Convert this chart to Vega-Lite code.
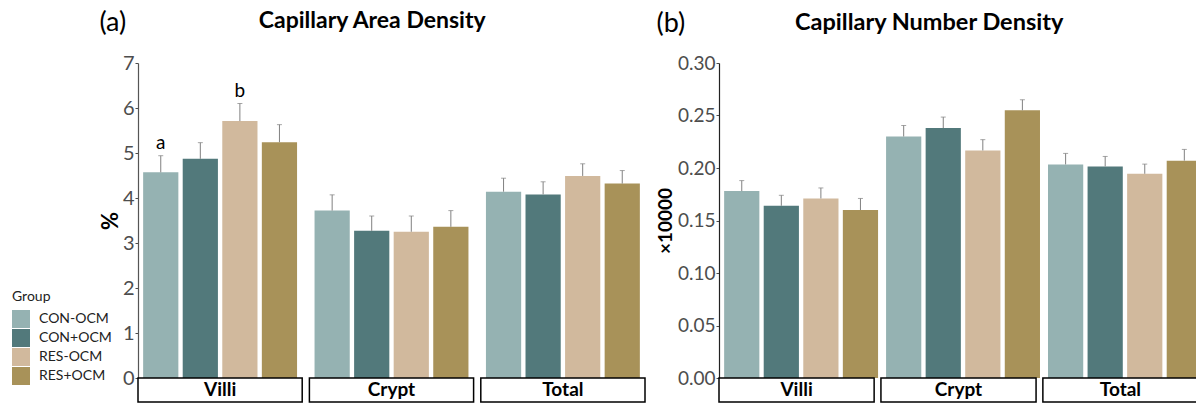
{
  "$schema": "https://vega.github.io/schema/vega-lite/v6.json",
  "padding": {"left": 12, "top": 9, "right": 0, "bottom": 0},
  "background": "white",
  "config": {"font": "Lato", "view": {"stroke": null}},
  "datasets": {
    "area": [
      {"Region": "Villi", "Group": "CON-OCM", "mean": 4.57, "upper": 4.94, "label": "a"},
      {"Region": "Villi", "Group": "CON+OCM", "mean": 4.87, "upper": 5.23, "label": ""},
      {"Region": "Villi", "Group": "RES-OCM", "mean": 5.71, "upper": 6.10, "label": "b"},
      {"Region": "Villi", "Group": "RES+OCM", "mean": 5.24, "upper": 5.63, "label": ""},
      {"Region": "Crypt", "Group": "CON-OCM", "mean": 3.72, "upper": 4.07, "label": ""},
      {"Region": "Crypt", "Group": "CON+OCM", "mean": 3.27, "upper": 3.60, "label": ""},
      {"Region": "Crypt", "Group": "RES-OCM", "mean": 3.25, "upper": 3.60, "label": ""},
      {"Region": "Crypt", "Group": "RES+OCM", "mean": 3.36, "upper": 3.72, "label": ""},
      {"Region": "Total", "Group": "CON-OCM", "mean": 4.14, "upper": 4.44, "label": ""},
      {"Region": "Total", "Group": "CON+OCM", "mean": 4.08, "upper": 4.36, "label": ""},
      {"Region": "Total", "Group": "RES-OCM", "mean": 4.49, "upper": 4.76, "label": ""},
      {"Region": "Total", "Group": "RES+OCM", "mean": 4.32, "upper": 4.61, "label": ""}
    ],
    "number": [
      {"Region": "Villi", "Group": "CON-OCM", "mean": 0.178, "upper": 0.188},
      {"Region": "Villi", "Group": "CON+OCM", "mean": 0.164, "upper": 0.174},
      {"Region": "Villi", "Group": "RES-OCM", "mean": 0.171, "upper": 0.181},
      {"Region": "Villi", "Group": "RES+OCM", "mean": 0.160, "upper": 0.171},
      {"Region": "Crypt", "Group": "CON-OCM", "mean": 0.230, "upper": 0.2405},
      {"Region": "Crypt", "Group": "CON+OCM", "mean": 0.238, "upper": 0.2485},
      {"Region": "Crypt", "Group": "RES-OCM", "mean": 0.2167, "upper": 0.227},
      {"Region": "Crypt", "Group": "RES+OCM", "mean": 0.255, "upper": 0.265},
      {"Region": "Total", "Group": "CON-OCM", "mean": 0.2034, "upper": 0.2139},
      {"Region": "Total", "Group": "CON+OCM", "mean": 0.2015, "upper": 0.211},
      {"Region": "Total", "Group": "RES-OCM", "mean": 0.1945, "upper": 0.2037},
      {"Region": "Total", "Group": "RES+OCM", "mean": 0.207, "upper": 0.2177}
    ],
    "strips": [
      {"Region": "Villi"},
      {"Region": "Crypt"},
      {"Region": "Total"}
    ]
  },
  "spacing": 10,
  "hconcat": [
    {
      "title": {"text": "(a)", "anchor": "start", "fontSize": 27, "fontWeight": "normal", "color": "black", "offset": 0, "dy": 27},
      "spacing": 0,
      "bounds": "flush",
      "vconcat": [
        {
          "width": 507,
          "height": 315,
          "title": {"text": "Capillary Area Density", "anchor": "middle", "frame": "bounds", "fontSize": 23, "fontWeight": "bold", "color": "black", "offset": 20},
          "data": {"name": "area"},
          "encoding": {
            "x": {"field": "Region", "type": "nominal", "sort": ["Villi", "Crypt", "Total"], "scale": {"paddingInner": 0.042, "paddingOuter": 0}, "axis": null},
            "xOffset": {"field": "Group", "type": "nominal", "sort": ["CON-OCM", "CON+OCM", "RES-OCM", "RES+OCM"], "scale": {"paddingInner": 0.11, "paddingOuter": 0.13}}
          },
          "layer": [
            {
              "mark": {"type": "bar"},
              "encoding": {
                "y": {"field": "mean", "type": "quantitative", "scale": {"domain": [0, 7], "nice": false},
                  "axis": {"values": [0, 1, 2, 3, 4, 5, 6, 7], "grid": false, "title": "%", "titleFontSize": 22, "titleFontWeight": "bold", "titleColor": "black", "titlePadding": 0,
                    "labelFontSize": 20, "labelColor": "#4D4D4D", "labelPadding": 1, "tickSize": 3, "tickColor": "#4D4D4D", "domainColor": "#555555", "domainWidth": 1.2}},
                "color": {"field": "Group", "type": "nominal", "sort": ["CON-OCM", "CON+OCM", "RES-OCM", "RES+OCM"],
                  "scale": {"domain": ["CON-OCM", "CON+OCM", "RES-OCM", "RES+OCM"], "range": ["#95B2B2", "#52797B", "#D1B99D", "#A89259"]},
                  "legend": {"orient": "none", "legendX": -126, "legendY": 227, "title": "Group", "titleFontSize": 14, "titleFontWeight": "normal", "titleColor": "#222222", "titlePadding": 6,
                    "symbolType": "square", "symbolSize": 324, "symbolStrokeWidth": 0, "labelFontSize": 14, "labelColor": "#222222", "labelOffset": 9, "rowPadding": 1}}
              }
            },
            {
              "mark": {"type": "rule", "color": "#808080", "strokeWidth": 1},
              "encoding": {"y": {"field": "mean", "type": "quantitative"}, "y2": {"field": "upper"}}
            },
            {
              "mark": {"type": "tick", "color": "#808080", "thickness": 1, "size": 5},
              "encoding": {"y": {"field": "upper", "type": "quantitative"}}
            },
            {
              "mark": {"type": "text", "fontSize": 19, "dy": -7, "baseline": "alphabetic", "color": "black"},
              "encoding": {"y": {"field": "upper", "type": "quantitative"}, "text": {"field": "label"}}
            }
          ]
        },
        {
          "width": 507,
          "height": 24,
          "data": {"name": "strips"},
          "encoding": {
            "x": {"field": "Region", "type": "nominal", "sort": ["Villi", "Crypt", "Total"], "scale": {"paddingInner": 0.042, "paddingOuter": 0}, "axis": null}
          },
          "layer": [
            {"mark": {"type": "rect", "fill": "white", "stroke": "black", "strokeWidth": 1.5}},
            {"mark": {"type": "text", "fontSize": 19, "fontWeight": "bold", "color": "black"}, "encoding": {"text": {"field": "Region"}}}
          ]
        }
      ]
    },
    {
      "title": {"text": "(b)", "anchor": "start", "fontSize": 27, "fontWeight": "normal", "color": "black", "offset": 0, "dy": 27},
      "spacing": 0,
      "bounds": "flush",
      "vconcat": [
        {
          "width": 479,
          "height": 315,
          "title": {"text": "Capillary Number Density", "anchor": "middle", "frame": "bounds", "fontSize": 23.5, "fontWeight": "bold", "color": "black", "offset": 20},
          "data": {"name": "number"},
          "encoding": {
            "x": {"field": "Region", "type": "nominal", "sort": ["Villi", "Crypt", "Total"], "scale": {"paddingInner": 0.042, "paddingOuter": 0}, "axis": null},
            "xOffset": {"field": "Group", "type": "nominal", "sort": ["CON-OCM", "CON+OCM", "RES-OCM", "RES+OCM"], "scale": {"paddingInner": 0.11, "paddingOuter": 0.13}}
          },
          "layer": [
            {
              "mark": {"type": "bar"},
              "encoding": {
                "y": {"field": "mean", "type": "quantitative", "scale": {"domain": [0, 0.3], "nice": false},
                  "axis": {"values": [0, 0.05, 0.1, 0.15, 0.2, 0.25, 0.3], "format": ".2f", "grid": false, "title": "×10000", "titleFontSize": 19, "titleFontWeight": "bold", "titleColor": "black", "titlePadding": 2,
                    "labelFontSize": 19, "labelColor": "#4D4D4D", "labelPadding": 1, "tickSize": 3, "tickColor": "#4D4D4D", "domainColor": "#222222", "domainWidth": 1.2}},
                "color": {"field": "Group", "type": "nominal", "sort": ["CON-OCM", "CON+OCM", "RES-OCM", "RES+OCM"],
                  "scale": {"domain": ["CON-OCM", "CON+OCM", "RES-OCM", "RES+OCM"], "range": ["#95B2B2", "#52797B", "#D1B99D", "#A89259"]},
                  "legend": {"orient": "none", "legendX": -126, "legendY": 227, "title": "Group", "titleFontSize": 14, "titleFontWeight": "normal", "titleColor": "#222222", "titlePadding": 6,
                    "symbolType": "square", "symbolSize": 324, "symbolStrokeWidth": 0, "labelFontSize": 14, "labelColor": "#222222", "labelOffset": 9, "rowPadding": 1}}
              }
            },
            {
              "mark": {"type": "rule", "color": "#808080", "strokeWidth": 1},
              "encoding": {"y": {"field": "mean", "type": "quantitative"}, "y2": {"field": "upper"}}
            },
            {
              "mark": {"type": "tick", "color": "#808080", "thickness": 1, "size": 5},
              "encoding": {"y": {"field": "upper", "type": "quantitative"}}
            }
          ]
        },
        {
          "width": 479,
          "height": 24,
          "data": {"name": "strips"},
          "encoding": {
            "x": {"field": "Region", "type": "nominal", "sort": ["Villi", "Crypt", "Total"], "scale": {"paddingInner": 0.042, "paddingOuter": 0}, "axis": null}
          },
          "layer": [
            {"mark": {"type": "rect", "fill": "white", "stroke": "black", "strokeWidth": 1.5}},
            {"mark": {"type": "text", "fontSize": 19, "fontWeight": "bold", "color": "black"}, "encoding": {"text": {"field": "Region"}}}
          ]
        }
      ]
    }
  ]
}
